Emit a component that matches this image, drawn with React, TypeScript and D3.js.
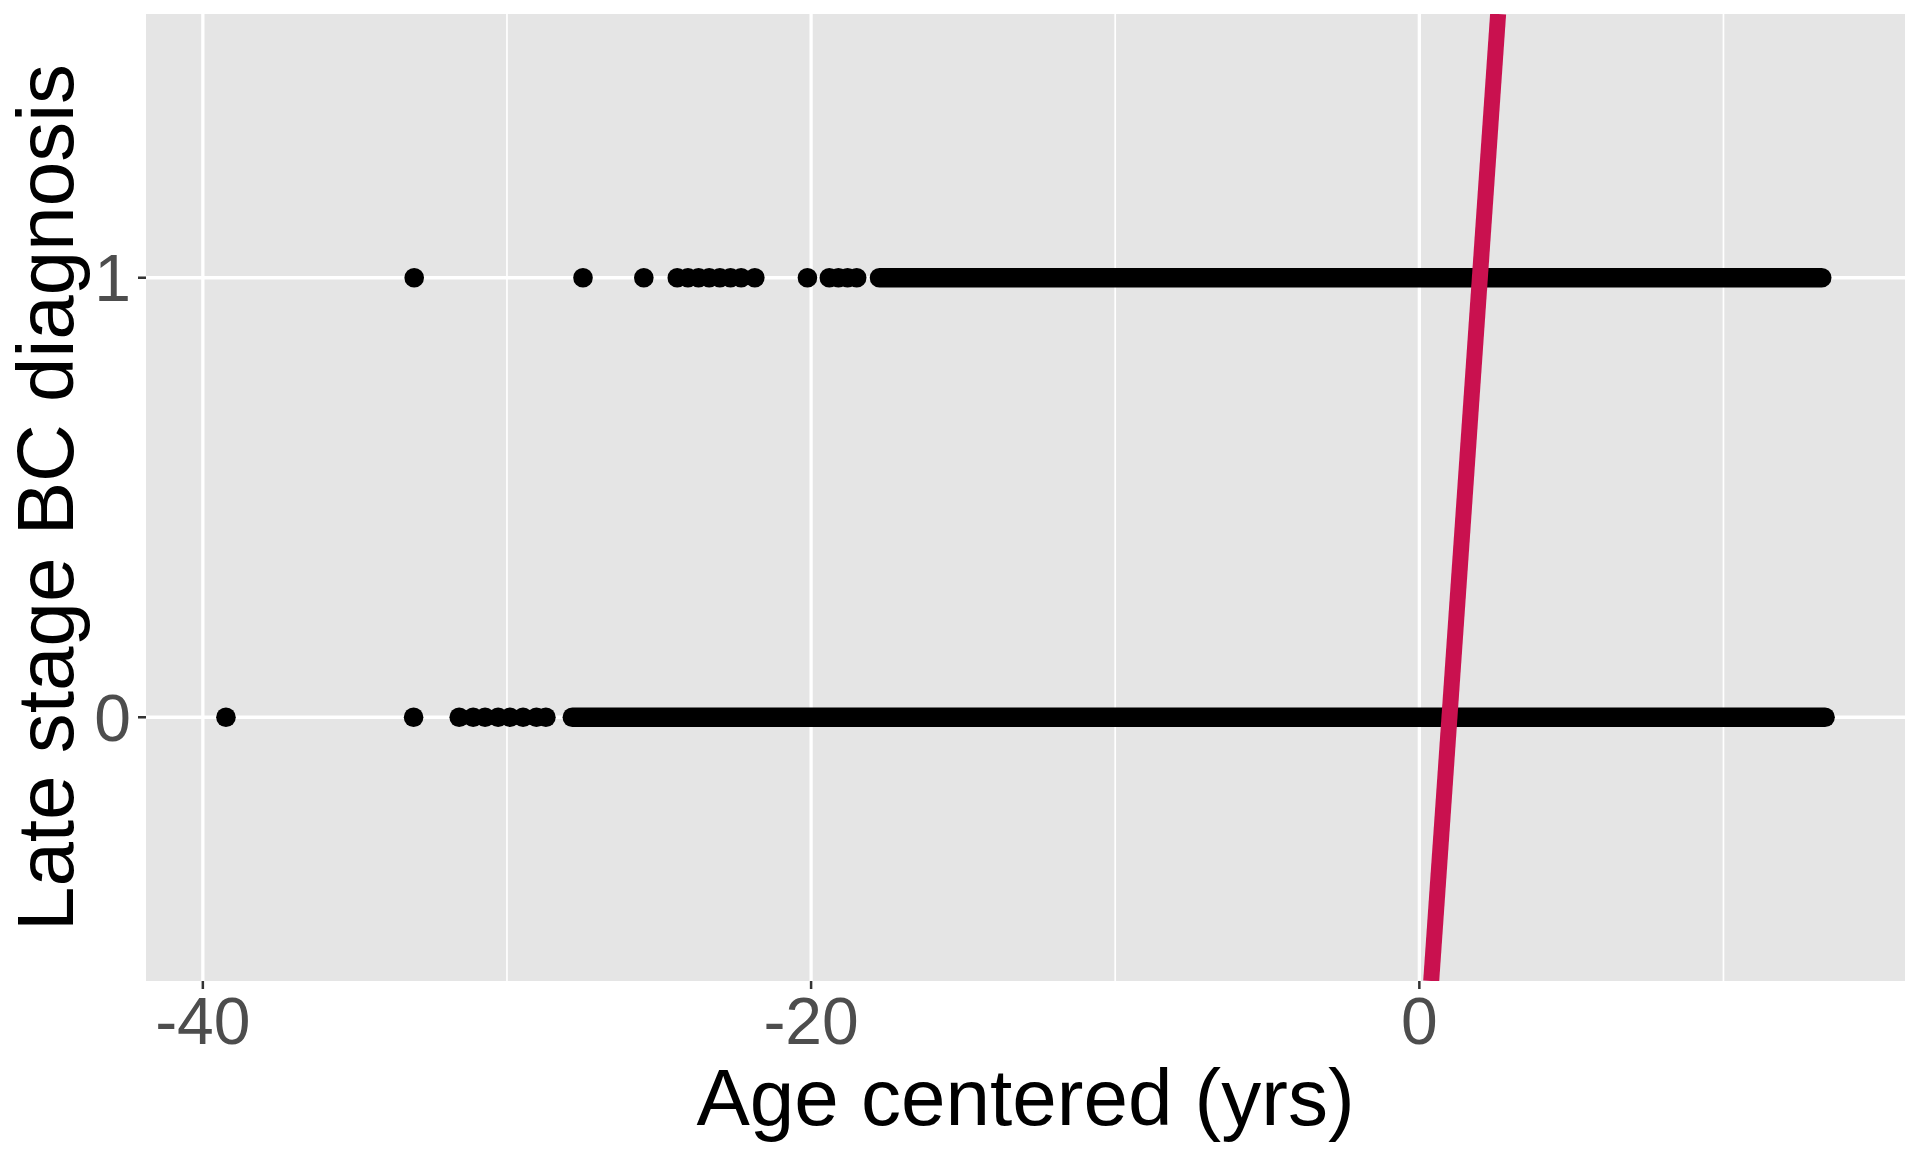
import * as d3 from "d3";

// Age centered (yrs) of the isolated points, per outcome
const sparseLate = [-33.05, -27.5, -25.5, -24.4, -24.05, -23.7, -23.35, -23.0, -22.65, -22.3, -21.85, -20.12, -19.4, -19.1, -18.8, -18.5];
const sparseEarly = [-39.24, -33.07, -31.57, -31.11, -30.72, -30.29, -29.9, -29.47, -29.03, -28.72];

// ranges where points overlap into a solid band: [outcome, from, to]
const denseRuns: [number, number, number][] = [
  [1, -17.75, 13.23],
  [0, -27.85, 13.34],
];

// straight line drawn over the points
const lineIntercept = -0.99;
const lineSlope = 1.0;

const xBreaks = [-40, -20, 0];
const xMinor = [-30, -10, 10];
const yBreaks = [0, 1];
const yLimits = [-0.5, 1.5];

const W = 1920;
const H = 1152;
const panel = { left: 146, right: 1905, top: 14, bottom: 981 };
const FONT = "'Liberation Sans', Arial, Helvetica, sans-serif";

export default function App() {
  const allX = [...sparseLate, ...sparseEarly, ...denseRuns.flatMap((r) => [r[1], r[2]])];
  const [xmin, xmax] = d3.extent(allX) as [number, number];
  const xpad = (xmax - xmin) * 0.05;
  const x = d3.scaleLinear().domain([xmin - xpad, xmax + xpad]).range([panel.left, panel.right]);

  const ypad = (yLimits[1] - yLimits[0]) * 0.05;
  const y = d3.scaleLinear().domain([yLimits[0] - ypad, yLimits[1] + ypad]).range([panel.bottom, panel.top]);

  const [y0, y1] = y.domain();
  const lineX0 = (y0 - lineIntercept) / lineSlope;
  const lineX1 = (y1 - lineIntercept) / lineSlope;

  const pts = [
    ...sparseLate.map((a) => ({ a, v: 1 })),
    ...sparseEarly.map((a) => ({ a, v: 0 })),
  ];
  const r = 9.8;

  return (
    <svg
      width={W}
      height={H}
      style={{ position: "absolute", left: 0, top: 0, background: "#fff" }}
      fontFamily={FONT}
    >
      <defs>
        <clipPath id="panel-clip">
          <rect x={panel.left} y={panel.top} width={panel.right - panel.left} height={panel.bottom - panel.top} />
        </clipPath>
      </defs>

      <rect x={panel.left} y={panel.top} width={panel.right - panel.left} height={panel.bottom - panel.top} fill="#E5E5E5" />

      {/* grid */}
      {xMinor.map((t) => (
        <line key={"mn" + t} x1={x(t)} x2={x(t)} y1={panel.top} y2={panel.bottom} stroke="#fff" strokeWidth={1.7} />
      ))}
      {xBreaks.map((t) => (
        <line key={"mj" + t} x1={x(t)} x2={x(t)} y1={panel.top} y2={panel.bottom} stroke="#fff" strokeWidth={3.3} />
      ))}
      {yBreaks.map((t) => (
        <line key={"yg" + t} x1={panel.left} x2={panel.right} y1={y(t)} y2={y(t)} stroke="#fff" strokeWidth={3.3} />
      ))}

      <g clipPath="url(#panel-clip)">
        {denseRuns.map(([v, a, b], i) => (
          <line key={"run" + i} x1={x(a)} x2={x(b)} y1={y(v)} y2={y(v)} stroke="#000" strokeWidth={r * 2} strokeLinecap="round" />
        ))}
        {pts.map((p, i) => (
          <circle key={i} cx={x(p.a)} cy={y(p.v)} r={r} fill="#000" />
        ))}
        <line x1={x(lineX0)} y1={y(y0)} x2={x(lineX1)} y2={y(y1)} stroke="#C9114F" strokeWidth={16} />
      </g>

      {/* axes */}
      {yBreaks.map((t) => (
        <g key={"yt" + t}>
          <line x1={panel.left - 8} x2={panel.left} y1={y(t)} y2={y(t)} stroke="#333" strokeWidth={2.5} />
          <text x={panel.left - 15} y={y(t)} dy="0.36em" textAnchor="end" fontSize={66} fill="#4D4D4D">
            {t}
          </text>
        </g>
      ))}
      {xBreaks.map((t) => (
        <g key={"xt" + t}>
          <line x1={x(t)} x2={x(t)} y1={panel.bottom} y2={panel.bottom + 8} stroke="#333" strokeWidth={2.5} />
          <text x={x(t)} y={1044} textAnchor="middle" fontSize={66} fill="#4D4D4D">
            {t}
          </text>
        </g>
      ))}

      <text x={(panel.left + panel.right) / 2} y={1125} textAnchor="middle" fontSize={80} fill="#000">
        Age centered (yrs)
      </text>
      <text
        transform={`translate(73,${(panel.top + panel.bottom) / 2}) rotate(-90)`}
        textAnchor="middle"
        fontSize={80}
        fill="#000"
      >
        Late stage BC diagnosis
      </text>
    </svg>
  );
}
